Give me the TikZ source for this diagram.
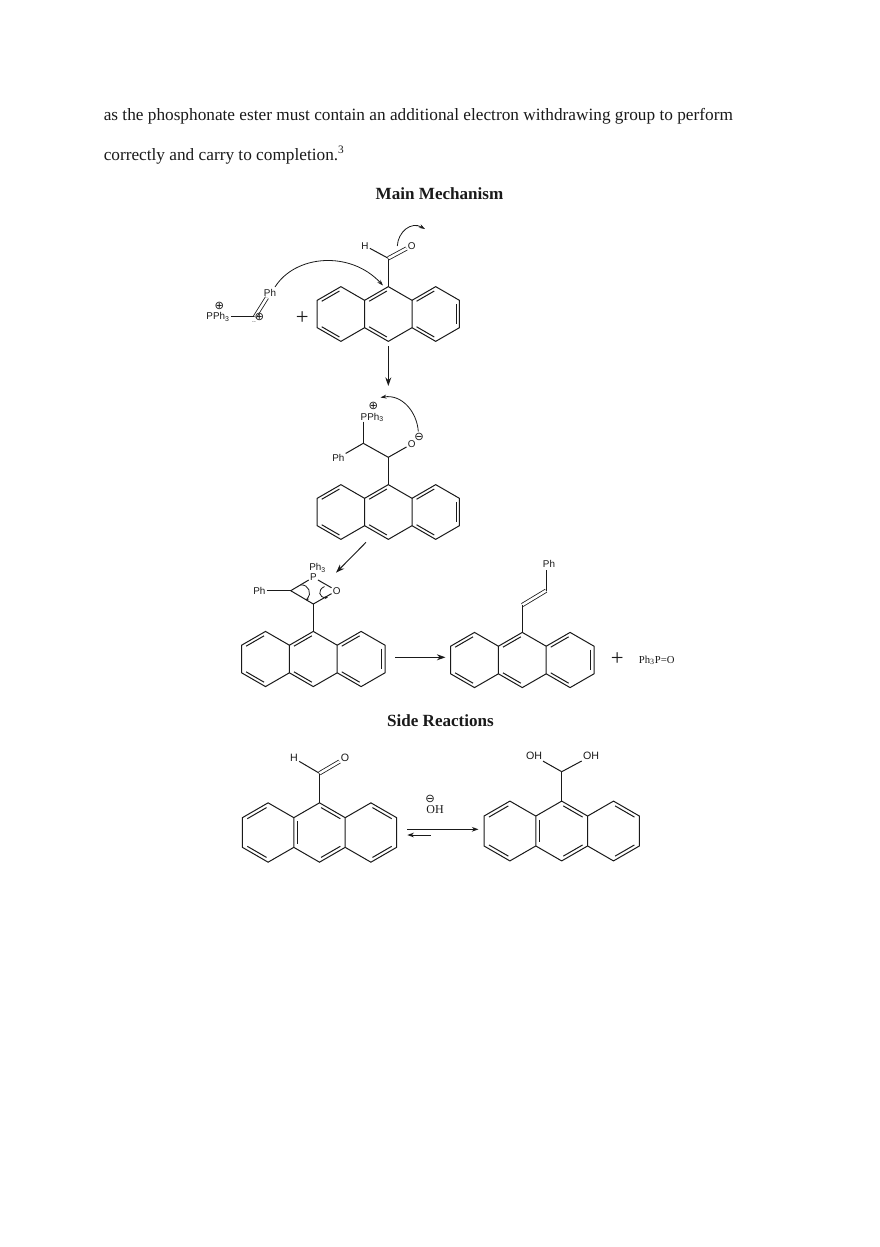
\documentclass[tikz,border=0pt]{standalone}
\usepackage{fontspec}
\setmainfont{Liberation Serif}
\newfontfamily\labelfont{Liberation Sans}
\newfontfamily\symfont{DejaVu Sans}
\usetikzlibrary{arrows.meta,calc}
\definecolor{ink}{HTML}{1A1A1A}
\tikzset{
  bond/.style={draw=ink,line width=0.75pt},
  dbond/.style={draw=ink,line width=0.6pt,double=white,double distance=1.9pt},
  rxn/.style={draw=ink,line width=0.7pt,-{Stealth[length=6.5pt,width=4.5pt]}},
  curly/.style={draw=ink,line width=0.6pt,-{Stealth[length=4.5pt,width=3pt]}},
  tinycurly/.style={draw=ink,line width=0.6pt,-{Stealth[length=2.5pt,width=2pt]}},
  atom/.style={font=\labelfont\fontsize{7.4}{8}\selectfont,text=ink,inner sep=0.8pt},
  bigatom/.style={font=\labelfont\fontsize{8}{8}\selectfont,text=ink,inner sep=0.8pt},
  charge/.style={font=\symfont\fontsize{8.5}{9}\selectfont,text=ink,inner sep=0pt},
  body/.style={font=\fontsize{12.95}{15}\selectfont,text=ink,inner sep=0pt,anchor=base west},
  head/.style={font=\bfseries\fontsize{12.8}{15}\selectfont,text=ink,inner sep=0pt,anchor=base},
  plus/.style={font=\fontsize{17}{17}\selectfont,text=ink,inner sep=0pt},
  serifnote/.style={font=\fontsize{8}{9}\selectfont,text=ink,inner sep=0pt}
}
% inner line of a double bond: edge a-b, ring centre c
\newcommand{\innerline}[3]{\draw[bond] ($(#1)!0.07!(#2)!0.13!(#3)$) -- ($(#2)!0.07!(#1)!0.13!(#3)$);}
% anthracene: prefix, cx, cy, half-hexagon width, pattern (0 or 1)
\newcommand{\anth}[5]{%
\begin{scope}[shift={(#2,#3)},x=#4*0.75pt,y=-#4*0.75pt]
  \coordinate (#1T) at (0,-1.1547);
  \coordinate (#1B) at (0,1.1547);
  \coordinate (#1UL) at (-1,-0.5774);
  \coordinate (#1LL) at (-1,0.5774);
  \coordinate (#1UR) at (1,-0.5774);
  \coordinate (#1LR) at (1,0.5774);
  \coordinate (#1LT) at (-2,-1.1547);
  \coordinate (#1LB) at (-2,1.1547);
  \coordinate (#1LU) at (-3,-0.5774);
  \coordinate (#1LD) at (-3,0.5774);
  \coordinate (#1RT) at (2,-1.1547);
  \coordinate (#1RB) at (2,1.1547);
  \coordinate (#1RU) at (3,-0.5774);
  \coordinate (#1RD) at (3,0.5774);
  \coordinate (#1cc) at (0,0);
  \coordinate (#1cl) at (-2,0);
  \coordinate (#1cr) at (2,0);
\end{scope}
\draw[bond,line join=miter] (#1T) -- (#1UR) -- (#1LR) -- (#1B) -- (#1LL) -- (#1UL) -- cycle;
\draw[bond,line join=miter] (#1UL) -- (#1LT) -- (#1LU) -- (#1LD) -- (#1LB) -- (#1LL);
\draw[bond,line join=miter] (#1UR) -- (#1RT) -- (#1RU) -- (#1RD) -- (#1RB) -- (#1LR);
\innerline{#1LU}{#1LT}{#1cl}
\innerline{#1LD}{#1LB}{#1cl}
\ifnum#5=0
  \innerline{#1UL}{#1T}{#1cc}
  \innerline{#1LL}{#1B}{#1cc}
  \innerline{#1UR}{#1RT}{#1cr}
  \innerline{#1RU}{#1RD}{#1cr}
  \innerline{#1LR}{#1RB}{#1cr}
\else
  \innerline{#1UL}{#1LL}{#1cc}
  \innerline{#1T}{#1UR}{#1cc}
  \innerline{#1B}{#1LR}{#1cc}
  \innerline{#1RT}{#1RU}{#1cr}
  \innerline{#1RB}{#1RD}{#1cr}
\fi
}
\begin{document}
\begin{tikzpicture}[x=0.75pt,y=-0.75pt]
\useasboundingbox (0,0) rectangle (880,1247);
\fill[white] (0,0) rectangle (880,1247);

% body text
\node[body] (line1) at (103.5,120) {as the phosphonate ester must contain an additional electron withdrawing group to perform};
\node[body] (line2) at (103.5,160) {correctly and carry to completion.\raisebox{0.4em}{\fontsize{8.5}{9}\selectfont 3}};
\node[head] (main) at (439.5,199.5) {Main Mechanism};
\node[head] (side) at (440.5,726.5) {Side Reactions};

% --- molecule 1
\anth{a}{388.3}{314}{23.7}{0}
\coordinate (aC) at (388.3,258.3);
\node[atom] (aH) at (365,245.7) {H};
\node[atom] (aO) at (411.7,245.7) {O};
\draw[bond] (aT) -- (aC);
\draw[bond] (aH) -- (aC);
\draw[dbond] (aC) -- (aO);
\coordinate (a1s) at (397.3,246);
\coordinate (a1e) at (425,229);
\draw[curly] (a1s) .. controls (398,232) and (411,221) .. (a1e);
% ylide
\coordinate (yC) at (255,316.7);
\node[atom] (yP) at (218,316.7) {PPh\textsubscript{3}};
\node[charge] (yPc) at (219.3,306) {⊕};
\node[atom] (yPh) at (270,292.7) {Ph};
\draw[bond] (yP) -- (yC);
\draw[dbond] (yC) -- (yPh);
\node[charge] (yCc) at (259.3,317.3) {⊕};
\node[atom,font=\labelfont\fontsize{5}{5}\selectfont] (ydots) at (254,322) {..};
\coordinate (y1s) at (275,287);
\coordinate (y1e) at (383,285.5);
\draw[curly] (y1s) .. controls (295,255) and (350,250) .. (y1e);
\node[plus] (p1) at (302.3,318) {+};
\coordinate (r1s) at (388.3,346);
\coordinate (r1e) at (388.3,386);
\draw[rxn] (r1s) -- (r1e);

% --- molecule 2
\anth{b}{388.3}{512}{23.7}{0}
\coordinate (bC1) at (363.3,443.3);
\coordinate (bC2) at (388.3,457.3);
\node[atom] (bP) at (372.3,417.3) {PPh\textsubscript{3}};
\coordinate (bPb) at (363.3,421.7);
\node[charge] (bPc) at (373.3,406) {⊕};
\node[atom] (bPh) at (338.3,457.7) {Ph};
\node[atom] (bO) at (411.7,444) {O};
\node[charge] (bOc) at (419,437.3) {⊖};
\draw[bond] (bPb) -- (bC1);
\draw[bond] (bC1) -- (bPh);
\draw[bond] (bC1) -- (bC2);
\draw[bond] (bC2) -- (bO);
\draw[bond] (bC2) -- (bT);
\coordinate (b1s) at (418.3,431.5);
\coordinate (b1e) at (380.5,397.5);
\draw[curly] (b1s) .. controls (417,412) and (402,394) .. (b1e);
\coordinate (r2s) at (366,542.3);
\coordinate (r2e) at (336,572.7);
\draw[rxn] (r2s) -- (r2e);

% --- molecule 3
\anth{c}{313.3}{659}{23.9}{0}
\node[atom] (cPh3) at (317.7,568) {Ph\textsubscript{3}};
\node[atom] (cP) at (313.3,577.3) {P};
\node[atom] (cO) at (336.7,590.7) {O};
\node[atom] (cPh) at (259.3,590.7) {Ph};
\coordinate (cC1) at (290.7,590.7);
\coordinate (cC2) at (313.3,604);
\draw[bond] (cPh) -- (cC1);
\draw[bond] (cC1) -- (cP);
\draw[bond] (cP) -- (cO);
\draw[bond] (cO) -- (cC2);
\draw[bond] (cC1) -- (cC2);
\draw[bond] (cC2) -- (cT);
\coordinate (c1s) at (300.5,585);
\coordinate (c1e) at (306,600.5);
\draw[tinycurly] (c1s) .. controls (309,584) and (312,594) .. (c1e);
\coordinate (c2s) at (324.5,586.5);
\coordinate (c2e) at (328,597.5);
\draw[tinycurly] (c2s) .. controls (317,590) and (319,598) .. (c2e);
\coordinate (r3s) at (395,657.3);
\coordinate (r3e) at (445.5,657.3);
\draw[rxn] (r3s) -- (r3e);

% --- molecule 4
\anth{d}{522.3}{660}{23.9}{0}
\node[atom] (dPh) at (549,564.3) {Ph};
\coordinate (dPhb) at (546,570);
\coordinate (dC1) at (546,590.7);
\coordinate (dC2) at (522.3,605);
\draw[bond] (dPhb) -- (dC1);
\draw[dbond] (dC1) -- (dC2);
\draw[bond] (dC2) -- (dT);
\node[plus] (p2) at (617.3,659.5) {+};
\node[serifnote] (oxide) at (656.7,660.3) {Ph\textsubscript{3}P=O};

% --- side reactions
\anth{e}{319.5}{832.5}{25.7}{1}
\coordinate (eC) at (319.5,773.3);
\node[bigatom] (eH) at (294,758.3) {H};
\node[bigatom] (eO) at (345,758.3) {O};
\draw[bond] (eT) -- (eC);
\draw[bond] (eH) -- (eC);
\draw[dbond] (eC) -- (eO);
\node[charge] (hoc) at (430,798.7) {⊖};
\node[serifnote,font=\fontsize{9}{10}\selectfont] (oh) at (435,809.3) {OH};
\coordinate (e1s) at (407.3,829.3);
\coordinate (e1e) at (478.5,829.3);
\draw[bond,-{Stealth[length=5pt,width=3.5pt]}] (e1s) -- (e1e);
\coordinate (e2s) at (430.7,835);
\coordinate (e2e) at (407.3,835);
\draw[bond,-{Stealth[length=5pt,width=3.5pt]}] (e2s) -- (e2e);

\anth{f}{561.7}{831}{25.9}{1}
\coordinate (fC) at (561.7,771.7);
\node[bigatom] (fOa) at (534,756) {OH};
\node[bigatom] (fOb) at (591,756) {OH};
\draw[bond] (fT) -- (fC);
\draw[bond] (fOa) -- (fC);
\draw[bond] (fOb) -- (fC);
\end{tikzpicture}
\end{document}
